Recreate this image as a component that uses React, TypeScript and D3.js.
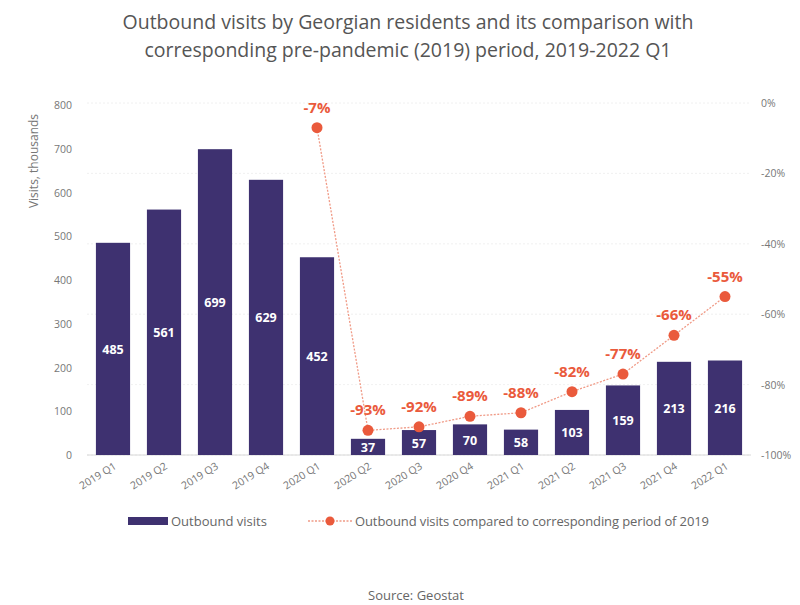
import React from "react";
import * as d3 from "d3";

const categories = ["2019 Q1","2019 Q2","2019 Q3","2019 Q4","2020 Q1","2020 Q2","2020 Q3","2020 Q4","2021 Q1","2021 Q2","2021 Q3","2021 Q4","2022 Q1"];
const visits = [485, 561, 699, 629, 452, 37, 57, 70, 58, 103, 159, 213, 216];
const pctCategories = ["2020 Q1","2020 Q2","2020 Q3","2020 Q4","2021 Q1","2021 Q2","2021 Q3","2021 Q4","2022 Q1"];
const pctValues = [-7, -93, -92, -89, -88, -82, -77, -66, -55];
const leftTicks = [0, 100, 200, 300, 400, 500, 600, 700, 800];
const rightTicks = [0, -20, -40, -60, -80, -100];

const FONT = "'Open Sans', sans-serif";
const BAR = "#3e3170";
const RED = "#ea5a3c";

export default function App() {
  const W = 800, H = 605;
  const x = d3.scaleBand<string>().domain(categories).range([87.5, 750.5]).paddingInner(0.33).paddingOuter(0.165);
  const y = d3.scaleLinear().domain([0, 800]).range([455, 105]);
  const y2 = d3.scaleLinear().domain([-100, 0]).range([455, 103]);
  const cx = (c: string) => (x(c) as number) + x.bandwidth() / 2;
  const pts = pctCategories.map((c, i) => [cx(c), y2(pctValues[i])] as [number, number]);
  const line = d3.line();
  return (
    <svg width={W} height={H} style={{ position: "absolute", left: 0, top: 0, background: "#fff" }} fontFamily={FONT}>
      <text x={408} y={29} textAnchor="middle" fontSize={19.5} fill="#555">Outbound visits by Georgian residents and its comparison with</text>
      <text x={408} y={57} textAnchor="middle" fontSize={19.5} fill="#555">corresponding pre-pandemic (2019) period, 2019-2022 Q1</text>
      {rightTicks.map(t => (
        <line key={"g"+t} x1={87} x2={751} y1={y2(t)} y2={y2(t)} stroke="#ececec" strokeWidth={0.8} strokeDasharray="2,2" />
      ))}
      <line x1={87} x2={751} y1={y(0)} y2={y(0)} stroke="#d8d8d8" strokeWidth={1} />
      {leftTicks.map(t => (
        <text key={"l"+t} x={72} y={y(t) + 4} textAnchor="end" fontSize={10.5} fill="#777">{t}</text>
      ))}
      {rightTicks.map(t => (
        <text key={"r"+t} x={761} y={y2(t) + 4} textAnchor="start" fontSize={10.5} fill="#777">{t + "%"}</text>
      ))}
      <text transform={`translate(38,161) rotate(-90)`} textAnchor="middle" fontSize={12} fill="#777">Visits, thousands</text>
      {categories.map((c, i) => (
        <rect key={"b"+c} x={x(c)} y={y(visits[i])} width={x.bandwidth()} height={y(0) - y(visits[i])} fill={BAR} />
      ))}
      {categories.map((c, i) => (
        <text key={"v"+c} x={cx(c)} y={(y(visits[i]) + y(0)) / 2 + 5} textAnchor="middle" fontSize={12.5} fontWeight="bold" fill="#fff">{visits[i]}</text>
      ))}
      {categories.map(c => (
        <text key={"x"+c} transform={`translate(${cx(c) + 4},${468}) rotate(-32)`} textAnchor="end" fontSize={10.5} fill="#777">{c}</text>
      ))}
      <path d={line(pts) || ""} fill="none" stroke="#f09a86" strokeWidth={1.3} strokeDasharray="2,1.5" />
      {pts.map((p, i) => (
        <circle key={"c"+i} cx={p[0]} cy={p[1]} r={5.5} fill={RED} />
      ))}
      {pts.map((p, i) => (
        <text key={"p"+i} x={p[0]} y={p[1] - 15} textAnchor="middle" fontSize={15} fontWeight="bold" fill={RED}>{pctValues[i] + "%"}</text>
      ))}
      <rect x={128} y={517} width={40} height={8} fill={BAR} />
      <text x={171} y={526} fontSize={13} fill="#666">Outbound visits</text>
      <line x1={308} x2={352} y1={521} y2={521} stroke="#f09a86" strokeWidth={1.3} strokeDasharray="2,1.5" />
      <circle cx={330} cy={521} r={4.5} fill={RED} />
      <text x={355} y={526} fontSize={13} fill="#666" textLength={354}>Outbound visits compared to corresponding period of 2019</text>
      <text x={416} y={600} textAnchor="middle" fontSize={13} fill="#666">Source: Geostat</text>
    </svg>
  );
}
